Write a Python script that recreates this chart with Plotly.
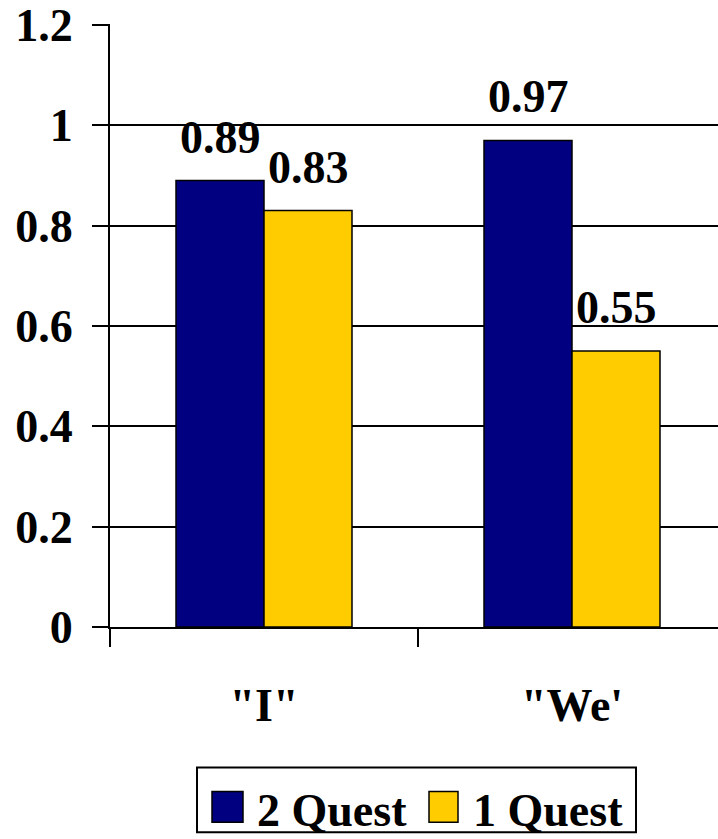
import plotly.graph_objects as go

categories = ['"I"', '"We\'']
series_names = ["2 Quest", "1 Quest"]
two_quest = [0.89, 0.97]
one_quest = [0.83, 0.55]
colors = ["#000080", "#FFCC00"]
y_ticks = [0, 0.2, 0.4, 0.6, 0.8, 1.0, 1.2]
y_tick_labels = ["0", "0.2", "0.4", "0.6", "0.8", "1", "1.2"]

W, H = 718, 839
L, R, T, B = 110, 0, 22, 212
FONT = "Liberation Serif"
FS = 46

def xp(px):
    return (px - L) / (W - L - R)

def yp(py):
    return (H - B - py) / (H - T - B)

bargap = 0.4286
bar_w = (1 - bargap) / 2

fig = go.Figure()
for name, vals, col in zip(series_names, [two_quest, one_quest], colors):
    fig.add_trace(go.Bar(
        name=name, x=categories, y=vals,
        marker=dict(color=col, line=dict(color="black", width=1.5)),
        showlegend=False,
    ))

annotations = []
for k, vals in enumerate([two_quest, one_quest]):
    for i, v in enumerate(vals):
        annotations.append(dict(
            x=i + (k - 0.5) * bar_w, y=v, xref="x", yref="y",
            text=f"{v:.2f}", showarrow=False, yanchor="bottom",
            yshift=16,
            font=dict(family=FONT, size=FS, color="black", weight="bold"),
        ))

# legend (manual, pixel-matched)
shapes = [dict(type="rect", xref="paper", yref="paper",
               x0=xp(197), x1=xp(636), y0=yp(833), y1=yp(768),
               line=dict(color="black", width=2), fillcolor="white")]
sq = [(212, 243), (429, 458)]
tx = [255, 471]
for (a, b), t, col, name in zip(sq, tx, colors, series_names):
    shapes.append(dict(type="rect", xref="paper", yref="paper",
                       x0=xp(a), x1=xp(b), y0=yp(823), y1=yp(792),
                       line=dict(color="black", width=1.5), fillcolor=col))
    annotations.append(dict(x=xp(t), y=yp(811), xref="paper", yref="paper",
                            text=name, showarrow=False, xanchor="left",
                            yanchor="middle",
                            font=dict(family=FONT, size=FS, color="black", weight="bold")))

fig.update_layout(
    width=W, height=H,
    margin=dict(l=L, r=R, t=T, b=B, pad=0),
    paper_bgcolor="white", plot_bgcolor="white",
    barmode="group", bargap=bargap, bargroupgap=0,
    font=dict(family=FONT, size=FS, color="black", weight="bold"),
    shapes=shapes, annotations=annotations,
    xaxis=dict(
        type="category", range=[-0.5, -0.5 + (W - L - R) / 308.0],
        showline=True, linecolor="black", linewidth=2,
        ticks="outside", ticklen=18, tickwidth=2, tickcolor="black",
        tickson="boundaries", showgrid=False,
        ticklabelstandoff=37,
        tickfont=dict(family=FONT, size=FS, color="black", weight="bold"),
    ),
    yaxis=dict(
        range=[0, 1.202], tickvals=y_ticks, ticktext=y_tick_labels,
        showline=True, linecolor="black", linewidth=2,
        ticks="outside", ticklen=16, tickwidth=2, tickcolor="black",
        showgrid=True, gridcolor="black", gridwidth=2,
        zeroline=False, ticklabelstandoff=10, ticklabeloverflow="allow",
        tickfont=dict(family=FONT, size=FS, color="black", weight="bold"),
    ),
)

fig.write_html("out.html")
